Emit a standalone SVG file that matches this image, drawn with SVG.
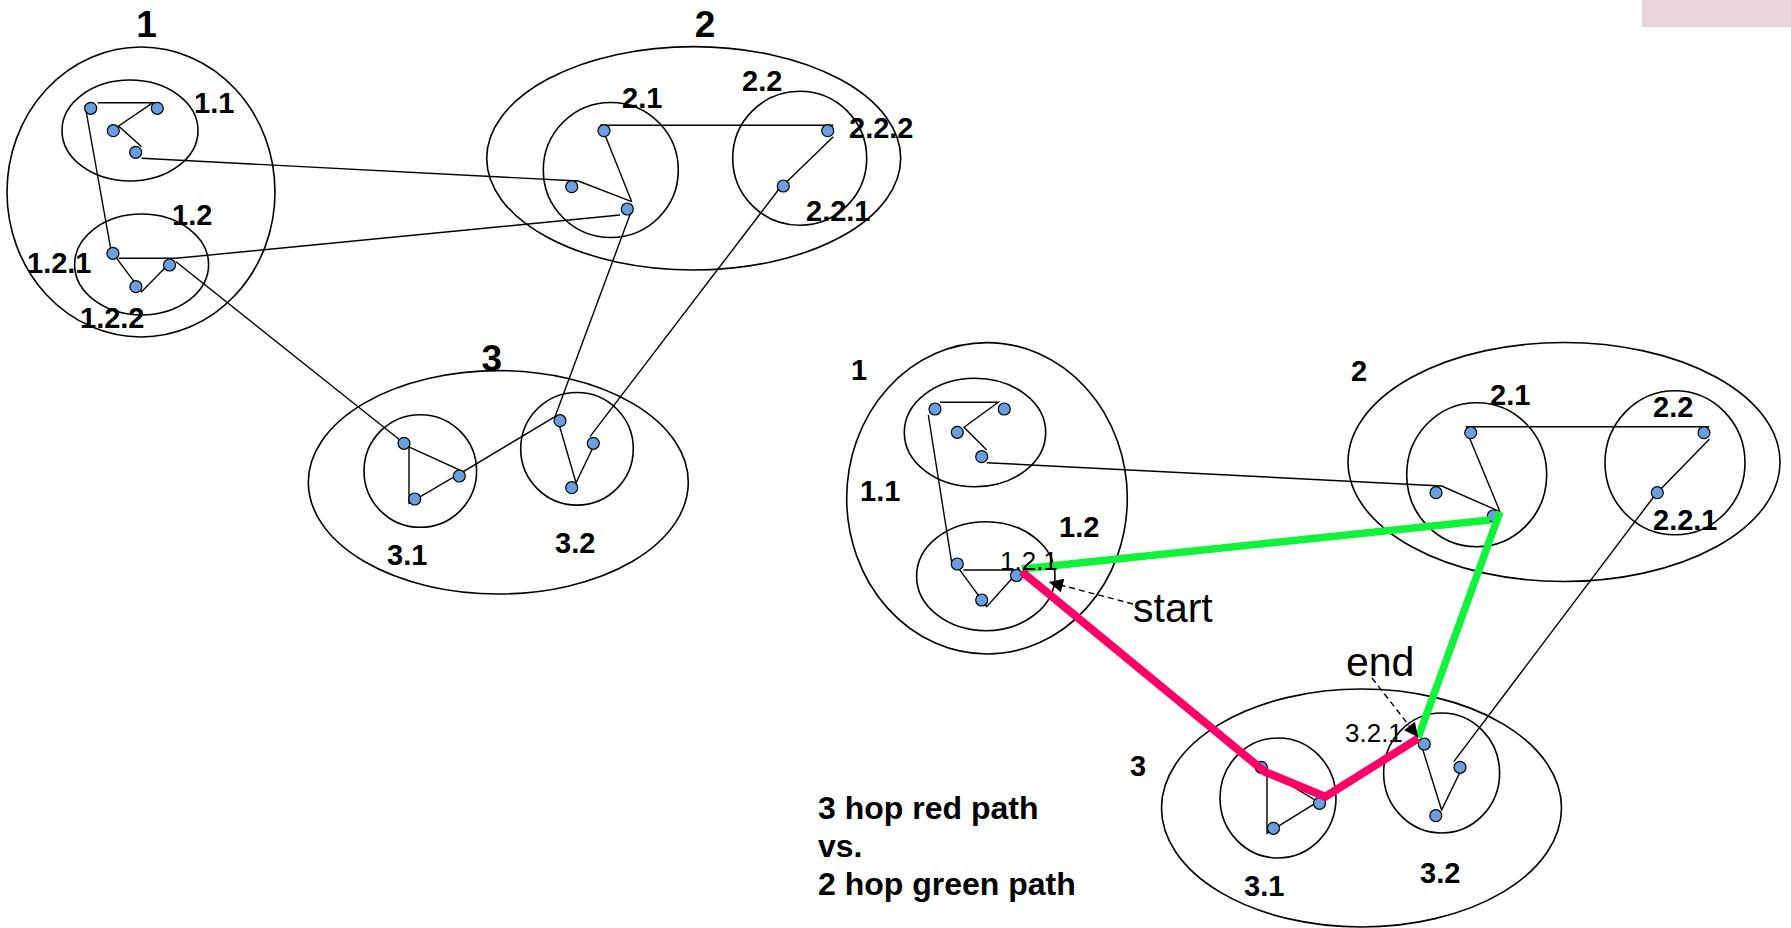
<svg xmlns="http://www.w3.org/2000/svg" width="1791" height="928" viewBox="0 0 1791 928">
<defs>
<style>
.c{fill:none;stroke:#000;stroke-width:1.6}
.n{fill:#6A9FDF;stroke:#000;stroke-width:1.2}
.l{fill:none;stroke:#000;stroke-width:1.4;stroke-linejoin:miter}
.b{font-family:"Liberation Sans",Arial,sans-serif;font-weight:bold;fill:#000}
.r{font-family:"Liberation Sans",Arial,sans-serif;fill:#000}
.big{font-size:37px}
.sub{font-size:29px}
.red{fill:none;stroke:#FF0066;stroke-width:8;stroke-linejoin:miter}
.grn{fill:none;stroke:#11F23A;stroke-width:7.5;stroke-linejoin:miter}
.dash{fill:none;stroke:#000;stroke-width:1.4;stroke-dasharray:6,4}
</style>
<marker id="arr" viewBox="0 0 10 10" refX="10" refY="5" markerWidth="15" markerHeight="14" markerUnits="userSpaceOnUse" orient="auto"><path d="M0,0 L10,5 L0,10 z" fill="#000"/></marker>
</defs>
<rect x="1642" y="0" width="149" height="27" fill="#E9D5D9"/>

<!-- LEFT DIAGRAM -->
<g id="L1">
<ellipse class="c" cx="141" cy="192" rx="134" ry="145"/>
<text class="b big" x="146.6" y="37" text-anchor="middle">1</text>
</g>
<g id="L1_1">
<ellipse class="c" cx="130" cy="130.5" rx="68" ry="50.5"/>
<text class="b sub" x="194" y="113">1.1</text>
</g>
<g id="L1_2">
<ellipse class="c" cx="141.6" cy="264.5" rx="67" ry="50.5"/>
<text class="b sub" x="172" y="225">1.2</text>
<text class="b sub" x="27" y="273">1.2.1</text>
<text class="b sub" x="80" y="328">1.2.2</text>
</g>
<g id="L2">
<ellipse class="c" cx="693.7" cy="158.3" rx="207" ry="111.7"/>
<text class="b big" x="705" y="37" text-anchor="middle">2</text>
</g>
<g id="L2_1">
<circle class="c" cx="610.8" cy="170" r="67.5"/>
<text class="b sub" x="622" y="108">2.1</text>
</g>
<g id="L2_2">
<circle class="c" cx="799.7" cy="158.3" r="67"/>
<text class="b sub" x="742" y="91">2.2</text>
<text class="b sub" x="849" y="138">2.2.2</text>
<text class="b sub" x="806" y="221">2.2.1</text>
</g>
<g id="L3">
<ellipse class="c" cx="498.3" cy="482.3" rx="190" ry="111.7"/>
<text class="b big" x="491.7" y="371" text-anchor="middle">3</text>
</g>
<g id="L3_1">
<circle class="c" cx="420.3" cy="471" r="56.3"/>
<text class="b sub" x="387" y="565">3.1</text>
</g>
<g id="L3_2">
<circle class="c" cx="577" cy="448.8" r="56.3"/>
<text class="b sub" x="555" y="553">3.2</text>
</g>

<!-- RIGHT DIAGRAM -->
<g id="R1">
<ellipse class="c" cx="987" cy="498.3" rx="140.3" ry="155.7"/>
<text class="b sub" x="851" y="380">1</text>
</g>
<g id="R1_1">
<ellipse class="c" cx="975" cy="432.5" rx="70.7" ry="54.2"/>
<text class="b sub" x="860" y="501">1.1</text>
</g>
<g id="R1_2">
<ellipse class="c" cx="985.8" cy="576.2" rx="69.2" ry="54.5"/>
<text class="b sub" x="1059" y="537">1.2</text>
</g>
<g id="R2">
<ellipse class="c" cx="1564" cy="462" rx="216" ry="119.5"/>
<text class="b sub" x="1351" y="381">2</text>
</g>
<g id="R2_1">
<ellipse class="c" cx="1476.7" cy="474.7" rx="70" ry="72"/>
<text class="b sub" x="1490" y="405">2.1</text>
</g>
<g id="R2_2">
<ellipse class="c" cx="1675" cy="462.8" rx="70" ry="72"/>
<text class="b sub" x="1653" y="417">2.2</text>
<text class="b sub" x="1653" y="530">2.2.1</text>
</g>
<g id="R3">
<ellipse class="c" cx="1361.5" cy="808" rx="200" ry="119"/>
<text class="b sub" x="1130" y="776">3</text>
</g>
<g id="R3_1">
<ellipse class="c" cx="1278" cy="798" rx="58" ry="60"/>
<text class="b sub" x="1244" y="896">3.1</text>
</g>
<g id="R3_2">
<ellipse class="c" cx="1441.6" cy="773" rx="58" ry="60"/>
<text class="b sub" x="1420" y="883">3.2</text>
</g>

<g id="connectors">
<!-- left -->
<path class="l" d="M97.6,102.7 L153,102.7 L118.6,126 L141.6,146.7"/>
<path class="l" d="M85,105 L112,256"/>
<path class="l" d="M141.6,158.3 L578.3,181 L631.7,201.7"/>
<path class="l" d="M118.6,258.3 L176,258.3 L620,215"/>
<path class="l" d="M116.7,258.3 L141.6,291.7 L169.5,263.3"/>
<path class="l" d="M176,261.7 L404,443.3"/>
<path class="l" d="M600,125.3 L833.3,125.3"/>
<path class="l" d="M601.7,126.7 L631.7,201.7"/>
<path class="l" d="M631.7,210 L555,416.7"/>
<path class="l" d="M833.3,136.7 L778.3,190 L590,436.7"/>
<path class="l" d="M408.3,446.7 L463.3,471.7 L555,416.7"/>
<path class="l" d="M409,446.7 L409,503.3 L460,473.3"/>
<path class="l" d="M558.3,421.7 L576,482.7 L595,443.3"/>
<!-- right -->
<path class="l" d="M940,402.3 L998.3,402.3 L964,427.3 L986.7,450"/>
<path class="l" d="M928.3,415 L951.7,562.7"/>
<path class="l" d="M986.7,462.7 L1441.7,486 L1500,511.7"/>
<path class="l" d="M963.3,570 L1020,570"/>
<path class="l" d="M957.3,566.7 L986.7,606.7 L1016.7,573.3"/>
<path class="l" d="M1465.7,426.7 L1709.3,426.7"/>
<path class="l" d="M1468.3,435 L1500,511.7"/>
<path class="l" d="M1709.3,439.3 L1655,495 L1453.8,761.7"/>
<path class="l" d="M1267,768.3 L1267,833.3 L1318,801.7"/>
<path class="l" d="M1419.8,740 L1441.6,810 L1463.5,765"/>
<path class="l" d="M1262,768 L1320,803"/>
</g>

<g id="nodes">
<circle class="n" cx="90.7" cy="108.3" r="6"/>
<circle class="n" cx="157.3" cy="108.3" r="6"/>
<circle class="n" cx="113.3" cy="130.7" r="6"/>
<circle class="n" cx="135.7" cy="152.3" r="6"/>
<circle class="n" cx="112.9" cy="253.3" r="6"/>
<circle class="n" cx="169.5" cy="265" r="6"/>
<circle class="n" cx="135.9" cy="286.7" r="6"/>
<circle class="n" cx="604" cy="130.7" r="6"/>
<circle class="n" cx="571.7" cy="186.7" r="6"/>
<circle class="n" cx="627.3" cy="209" r="6"/>
<circle class="n" cx="827.7" cy="130.7" r="6"/>
<circle class="n" cx="783.3" cy="186" r="6"/>
<circle class="n" cx="404" cy="443.3" r="6"/>
<circle class="n" cx="459.3" cy="476" r="6"/>
<circle class="n" cx="414.7" cy="499" r="6"/>
<circle class="n" cx="560" cy="420.7" r="6"/>
<circle class="n" cx="593.3" cy="443.3" r="6"/>
<circle class="n" cx="571.7" cy="487.7" r="6"/>
<circle class="n" cx="935" cy="409" r="6"/>
<circle class="n" cx="1004.3" cy="409" r="6"/>
<circle class="n" cx="957.3" cy="432.3" r="6"/>
<circle class="n" cx="981.7" cy="456.7" r="6"/>
<circle class="n" cx="957.3" cy="564" r="6"/>
<circle class="n" cx="1016.5" cy="575.5" r="6"/>
<circle class="n" cx="981.7" cy="600" r="6"/>
<circle class="n" cx="1470.7" cy="432.7" r="6"/>
<circle class="n" cx="1436" cy="492.7" r="6"/>
<circle class="n" cx="1493.3" cy="516" r="6"/>
<circle class="n" cx="1704" cy="432.7" r="6"/>
<circle class="n" cx="1657.3" cy="492.7" r="6"/>
<circle class="n" cx="1261.3" cy="767.3" r="6"/>
<circle class="n" cx="1319.5" cy="803.3" r="6"/>
<circle class="n" cx="1273.5" cy="828.3" r="6"/>
<circle class="n" cx="1424.3" cy="744" r="6"/>
<circle class="n" cx="1460" cy="767.3" r="6"/>
<circle class="n" cx="1435.8" cy="815.7" r="6"/>
</g>

<g id="paths">
<path class="grn" d="M1021.7,569 L1490,520"/>
<path class="grn" d="M1500,511.7 L1418.3,737.3"/>
<path class="red" d="M1021.7,571.7 L1264.7,771.7 L1325.3,796.7 L1418.3,738.3"/>
<path class="dash" d="M1133,604 L1049,582" marker-end="url(#arr)"/>
<path class="dash" d="M1372,678 L1418,737" marker-end="url(#arr)"/>
</g>

<g id="labels">
<text class="r" x="1000" y="570" font-size="26">1.2.1</text>
<text class="r" x="1133" y="622" font-size="41">start</text>
<text class="r" x="1346" y="676" font-size="41">end</text>
<text class="r" x="1345" y="742" font-size="26">3.2.1</text>
<text class="b" x="818" y="819" font-size="32">3 hop red path</text>
<text class="b" x="818" y="857" font-size="32">vs.</text>
<text class="b" x="818" y="895" font-size="32">2 hop green path</text>
</g>
</svg>
